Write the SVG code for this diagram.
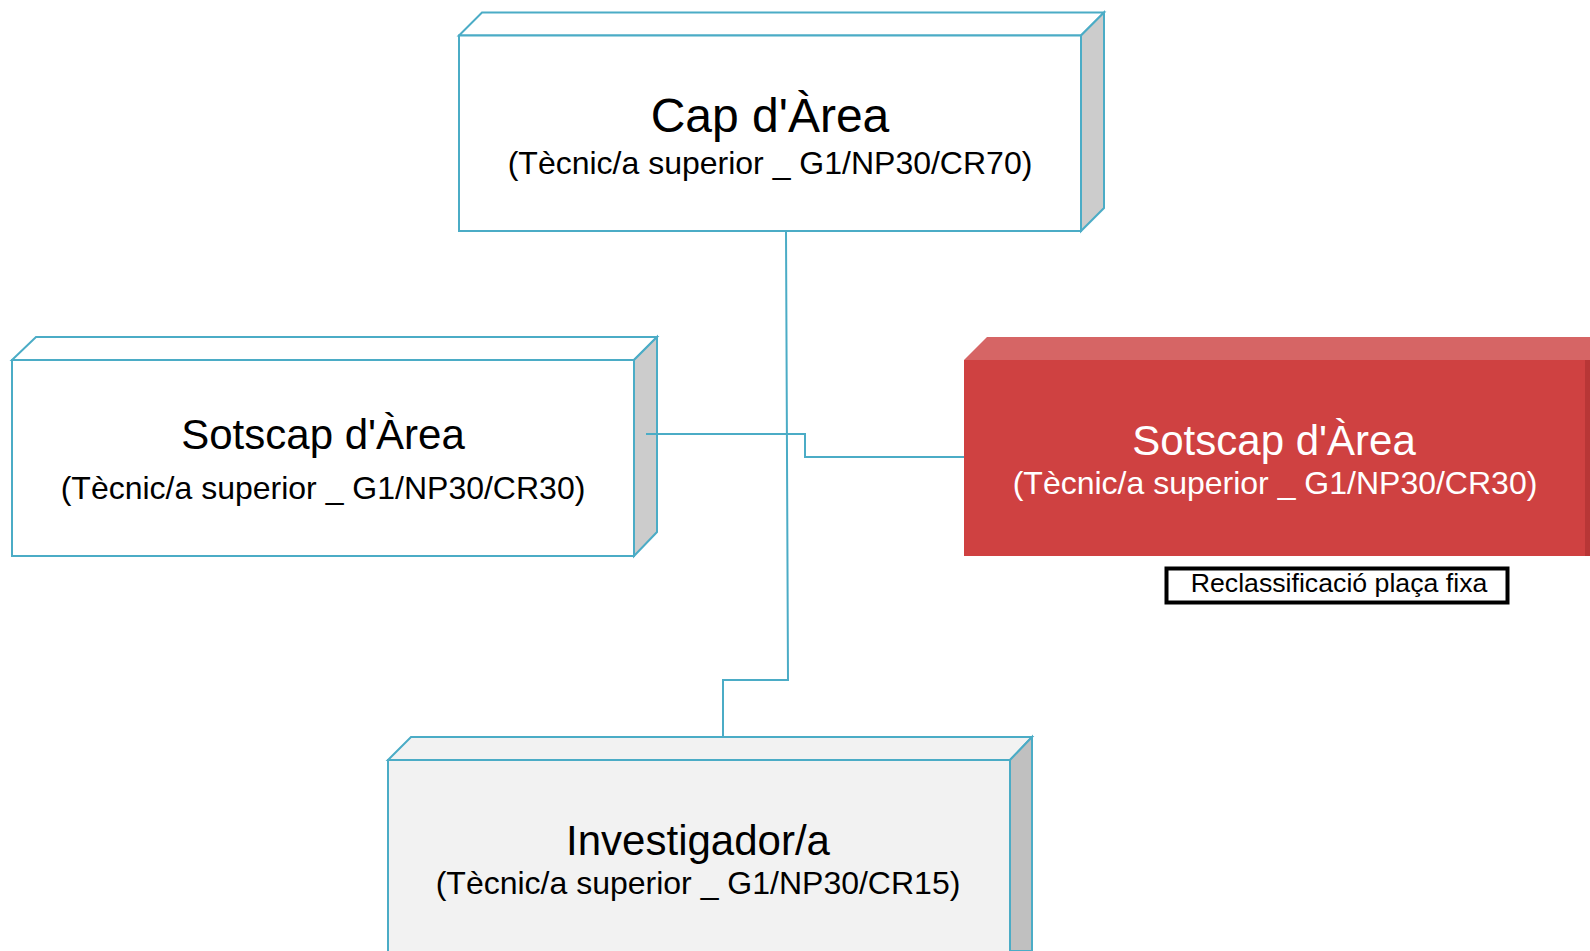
<svg xmlns="http://www.w3.org/2000/svg" width="1590" height="951" viewBox="0 0 1590 951">
<style>
.front{stroke:#4BACC6;stroke-width:2;fill:#FFFFFF}
.top{stroke:#4BACC6;stroke-width:2;fill:#FFFFFF}
.side{stroke:#4BACC6;stroke-width:2;fill:#CCCCCC}
.t{font-family:"Liberation Sans",Arial,sans-serif;text-anchor:middle;fill:#000}
.w{fill:#FFFFFF}
.conn{fill:none;stroke:#4BACC6;stroke-width:2}
</style>
<rect width="1590" height="951" fill="#FFFFFF"/>
<g id="cap">
<polygon class="top" points="459,35.5 482,12.5 1104,12.5 1081,35.5"/>
<polygon class="side" points="1081,35.5 1104,12.5 1104,208 1081,231"/>
<rect class="front" x="459" y="35.5" width="622" height="195.5"/>
<text class="t" x="770" y="132" font-size="48">Cap d'Àrea</text>
<text class="t" x="770" y="174" font-size="32">(Tècnic/a superior _ G1/NP30/CR70)</text>
</g>
<g id="sotscap1">
<polygon class="top" points="12,360 36,337 657,337 634,360"/>
<polygon class="side" points="634,360 657,337 657,532 634,556"/>
<rect class="front" x="12" y="360" width="622" height="196"/>
<text class="t" x="323" y="449" font-size="42">Sotscap d'Àrea</text>
<text class="t" x="323" y="499" font-size="32">(Tècnic/a superior _ G1/NP30/CR30)</text>
</g>
<g id="sotscap2">
<polygon points="964,360 987,337 1590,337 1590,360" fill="#D66565"/>
<rect x="964" y="360" width="626" height="196" fill="#CF4141"/>
<rect x="1585" y="360" width="5" height="196" fill="#B83636"/>
<text class="t w" x="1274" y="455" font-size="42">Sotscap d'Àrea</text>
<text class="t w" x="1275" y="494" font-size="32">(Tècnic/a superior _ G1/NP30/CR30)</text>
</g>
<g id="label">
<rect x="1166.5" y="568.5" width="341" height="34" fill="#FFFFFF" stroke="#000" stroke-width="4"/>
<text class="t" x="1339" y="592" font-size="26.7">Reclassificació plaça fixa</text>
</g>
<g id="investigador">
<polygon class="top" points="388,760 411,737 1032,737 1010,760" style="fill:#F2F2F2"/>
<polygon class="side" points="1010,760 1032,737 1032,951 1010,951" style="fill:#C0C0C0"/>
<rect class="front" x="388" y="760" width="622" height="195" style="fill:#F2F2F2"/>
<text class="t" x="698" y="855" font-size="42">Investigador/a</text>
<text class="t" x="698" y="894" font-size="32">(Tècnic/a superior _ G1/NP30/CR15)</text>
</g>
<g id="connectors">
<polyline class="conn" points="786,231 788,680 723,680 723,737"/>
<polyline class="conn" points="646,434 805,434 805,457 964,457"/>
</g>
</svg>
